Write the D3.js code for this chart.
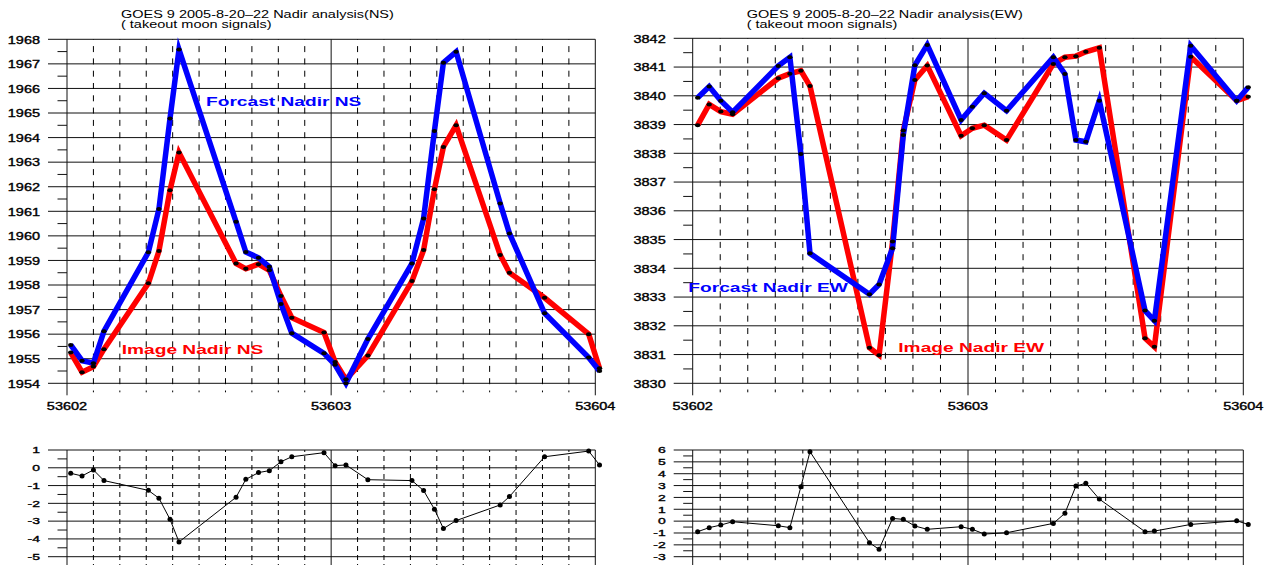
<!DOCTYPE html>
<html>
<head>
<meta charset="utf-8">
<script src="https://d3js.org/d3.v7.min.js"></script>
<style>
  html, body { margin: 0; padding: 0; background: #fff; }
  svg { display: block; }
  text { font-family: "Liberation Sans", Arial, sans-serif; fill: #000; }
  text.tick { stroke: #000; stroke-width: 0.35px; }
</style>
</head>
<body>
<svg id="chart" width="1270" height="565"></svg>
<script>
// ---- Nadir analysis data, GOES 9, MJD 53602-53604 ----
const mjdNS = [53602.014, 53602.057, 53602.100, 53602.140, 53602.308, 53602.348, 53602.390, 53602.424,
  53602.640, 53602.677, 53602.725, 53602.766, 53602.810, 53602.851, 53602.973, 53603.015, 53603.056,
  53603.139, 53603.306, 53603.350, 53603.391, 53603.425, 53603.473, 53603.640, 53603.675, 53603.808,
  53603.975, 53604.016];
const forecastNS = [1955.56, 1954.92, 1954.82, 1956.12, 1959.33, 1961.09, 1964.78, 1967.58,
  1960.57, 1959.34, 1959.11, 1958.74, 1957.23, 1956.04, 1955.22, 1954.75, 1954.00,
  1955.80, 1958.88, 1960.71, 1964.27, 1967.05, 1967.49, 1961.32, 1960.10, 1956.85,
  1955.05, 1954.50];
const imageNS = [1955.25, 1954.45, 1954.68, 1955.39, 1958.07, 1959.38, 1961.86, 1963.39,
  1958.88, 1958.66, 1958.85, 1958.60, 1957.55, 1956.67, 1956.07, 1954.87, 1954.16,
  1955.13, 1958.16, 1959.42, 1961.90, 1963.62, 1964.50, 1959.22, 1958.50, 1957.48,
  1956.00, 1954.61];
const diffNS = [-0.31, -0.46, -0.12, -0.72, -1.27, -1.71, -2.90, -4.17,
  -1.66, -0.65, -0.27, -0.16, 0.34, 0.62, 0.85, 0.12, 0.16,
  -0.67, -0.72, -1.28, -2.33, -3.42, -2.97, -2.09, -1.62, 0.62,
  0.94, 0.16];

const mjdEW = [53602.018, 53602.060, 53602.102, 53602.145, 53602.311, 53602.353, 53602.393, 53602.426,
  53602.642, 53602.677, 53602.726, 53602.765, 53602.807, 53602.852, 53602.975, 53603.016, 53603.059,
  53603.140, 53603.310, 53603.352, 53603.392, 53603.428, 53603.477, 53603.643, 53603.677, 53603.809,
  53603.976, 53604.018];
const forecastEW = [3839.93, 3840.32, 3839.83, 3839.43, 3841.04, 3841.34, 3837.98, 3834.52,
  3833.10, 3833.44, 3834.70, 3838.64, 3841.06, 3841.77, 3839.16, 3839.62, 3840.09,
  3839.48, 3841.34, 3840.76, 3838.46, 3838.40, 3839.83, 3832.53, 3832.18, 3841.74,
  3839.83, 3840.30];
const imageEW = [3838.98, 3839.70, 3839.45, 3839.36, 3840.61, 3840.77, 3840.87, 3840.34,
  3831.24, 3830.98, 3834.93, 3838.79, 3840.55, 3841.05, 3838.61, 3838.87, 3838.98,
  3838.46, 3841.11, 3841.34, 3841.38, 3841.53, 3841.67, 3831.57, 3831.27, 3841.36,
  3839.83, 3839.97];
const diffEW = [-0.89, -0.55, -0.33, -0.05, -0.39, -0.55, 2.90, 5.86,
  -1.82, -2.38, 0.23, 0.15, -0.41, -0.69, -0.47, -0.69, -1.09,
  -0.98, -0.19, 0.66, 2.96, 3.19, 1.86, -0.89, -0.84, -0.28,
  0.03, -0.28];

const xTickValues = [53602, 53603, 53604];
const titleLine1 = ["GOES 9 2005-8-20\u201322 Nadir analysis(NS)", "GOES 9 2005-8-20\u201322 Nadir analysis(EW)"];
const titleLine2 = "( takeout moon signals)";
const legendForecast = ["Forcast Nadir NS", "Forcast Nadir EW"];
const legendImage = ["Image Nadir NS", "Image Nadir EW"];

const svg = d3.select("#chart");

// text is drawn horizontally widened
function stext(g, x, y, str, size, sx, anchor, weight, color, cls) {
  return g.append("text")
    .attr("class", cls || null)
    .attr("transform", `translate(${x},${y}) scale(${sx},1)`)
    .attr("text-anchor", anchor || "start")
    .attr("font-size", size)
    .attr("font-weight", weight || "normal")
    .style("fill", color || "#000")
    .text(str);
}

function grid(g, x, y, yMin, yMax, top, bottom, dash, dashOff, extend) {
  const [x0, x1] = x.range();
  // horizontal grid at integers, with major ticks left of the axis
  for (let v = yMin; v <= yMax; v++) {
    g.append("line").attr("x1", x0 - 19).attr("x2", x1)
      .attr("y1", y(v)).attr("y2", y(v))
      .attr("stroke", "#111").attr("stroke-width", 1);
  }
  // minor ticks at half units
  for (let v = yMin + 0.5; v < yMax; v++) {
    g.append("line").attr("x1", x0 - 9.5).attr("x2", x0)
      .attr("y1", y(v)).attr("y2", y(v))
      .attr("stroke", "#111").attr("stroke-width", 1);
  }
  // vertical lines every 0.1 day
  for (let k = 0; k <= 20; k++) {
    const t = 53602 + k / 10;
    const solid = k % 10 === 0;
    const ln = g.append("line").attr("x1", x(t)).attr("x2", x(t))
      .attr("y1", top).attr("y2", bottom + (solid ? extend : extend - 3))
      .attr("stroke", solid ? "#111" : "#000").attr("stroke-width", 1);
    if (!solid) ln.attr("stroke-dasharray", dash).attr("stroke-dashoffset", dashOff);
  }
}

function topPanel(idx, left, right, yMax, yMin, yTop, yBot, mjd, fc, im, legF, legI) {
  const g = svg.append("g");
  const x = d3.scaleLinear().domain([53602, 53604]).range([left, right]);
  const y = d3.scaleLinear().domain([yMin, yMax]).range([yBot, yTop]);
  grid(g, x, y, yMin, yMax, yTop, yBot, "6,6.3", 5.5, 12);

  d3.range(yMin, yMax + 1).forEach(v => stext(g, left - 27, y(v) + 4.3, String(v), 10.5, 1.38, "end", "normal", "#000", "tick"));
  xTickValues.forEach(t => stext(g, x(t), 410, String(t), 10, 1.45, "middle", "normal", "#000", "tick"));

  stext(g, left + 54, 17.5, titleLine1[idx], 10, 1.45, "start");
  stext(g, left + 54, 28, titleLine2, 10, 1.45, "start");

  const line = d3.line().x(d => x(d[0])).y(d => y(d[1]));
  const imPts = mjd.map((t, i) => [t, im[i]]);
  const fcPts = mjd.map((t, i) => [t, fc[i]]);
  g.append("path").attr("d", line(imPts)).attr("fill", "none")
    .attr("stroke", "#ff0000").attr("stroke-width", 5.5)
    .attr("stroke-linejoin", "miter").attr("stroke-miterlimit", 20);
  g.append("path").attr("d", line(fcPts)).attr("fill", "none")
    .attr("stroke", "#0000ff").attr("stroke-width", 5.5)
    .attr("stroke-linejoin", "miter").attr("stroke-miterlimit", 20);
  [imPts, fcPts].forEach(pts => {
    g.selectAll(null).data(pts).enter().append("ellipse")
      .attr("cx", d => x(d[0])).attr("cy", d => y(d[1]))
      .attr("rx", 2.7).attr("ry", 2.0).attr("fill", "#000");
  });

  stext(g, legF[0], legF[1], legendForecast[idx], 13.5, 1.42, "start", "bold", "#0000ff");
  stext(g, legI[0], legI[1], legendImage[idx], 13.5, 1.42, "start", "bold", "#ff0000");
}

function bottomPanel(left, right, yMax, yMin, yTop, yMinPix, mjd, diff, dash, dashOff) {
  const g = svg.append("g");
  const x = d3.scaleLinear().domain([53602, 53604]).range([left, right]);
  const y = d3.scaleLinear().domain([yMin, yMax]).range([yMinPix, yTop]);
  grid(g, x, y, yMin, yMax, yTop, 565, dash, dashOff, 3);
  d3.range(yMin, yMax + 1).forEach(v => stext(g, left - 27, y(v) + 3.3, String(v), 9, 1.55, "end", "normal", "#000", "tick"));

  const pts = mjd.map((t, i) => [t, diff[i]]);
  g.append("path").attr("d", d3.line().x(d => x(d[0])).y(d => y(d[1]))(pts))
    .attr("fill", "none").attr("stroke", "#000").attr("stroke-width", 1);
  g.selectAll(null).data(pts).enter().append("circle")
    .attr("cx", d => x(d[0])).attr("cy", d => y(d[1]))
    .attr("r", 2.5).attr("fill", "#000");
}

topPanel(0, 67, 595.3, 1968, 1954, 39.3, 383.3, mjdNS, forecastNS, imageNS, [206, 106], [121.7, 354]);
topPanel(1, 692.7, 1243.3, 3842, 3830, 38.3, 383.3, mjdEW, forecastEW, imageEW, [688.3, 292], [898.3, 352]);
bottomPanel(67, 595.3, 1, -5, 450, 556.7, mjdNS, diffNS, "5,4", 3);
bottomPanel(692.7, 1243.3, 6, -3, 450, 556.7, mjdEW, diffEW, "7,4.85", 3.5);
</script>
</body>
</html>
